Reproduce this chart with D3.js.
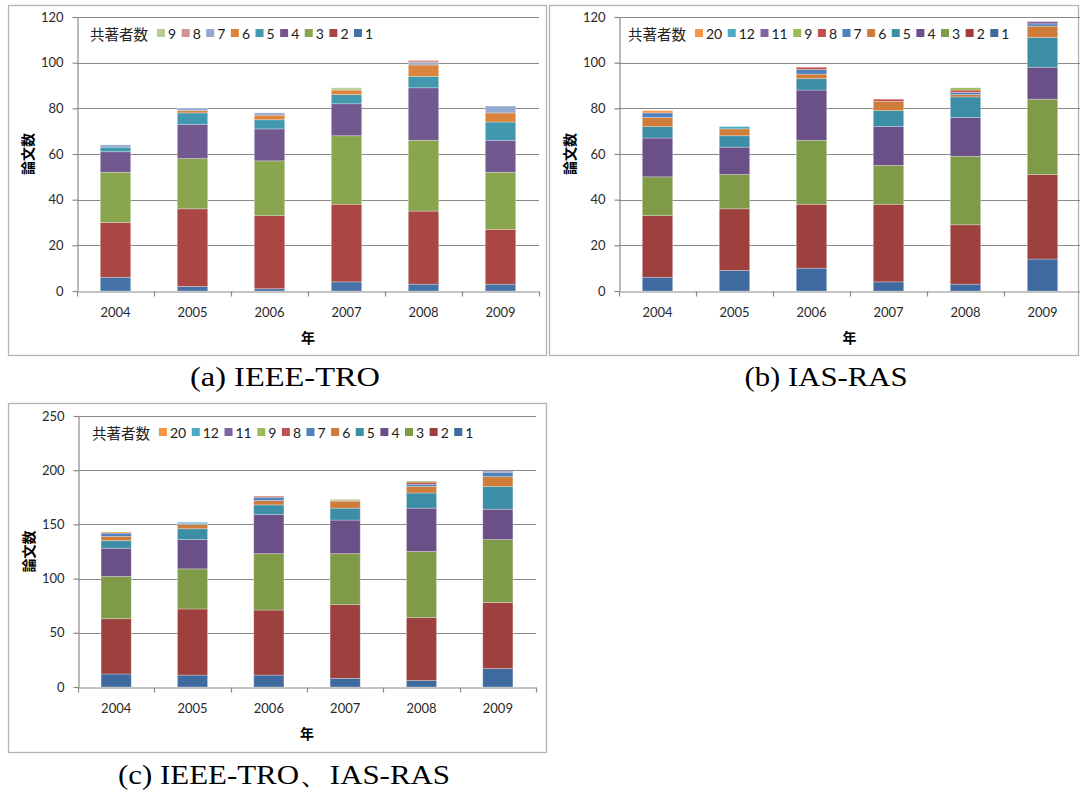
<!DOCTYPE html>
<html><head><meta charset="utf-8">
<script src="https://cdn.jsdelivr.net/npm/d3@7"></script>
<style>body{margin:0;background:#fff;}svg{display:block;}</style>
</head><body>
<svg id="chart" width="1080" height="791"></svg>
<script>
// ---------- DATA ----------
const years = ['2004','2005','2006','2007','2008','2009'];
const yTicksAB = [0,20,40,60,80,100,120];
const yTicksC = [0,50,100,150,200,250];
const keysA = ['1','2','3','4','5','6','7','8','9'];
const keysB = ['1','2','3','4','5','6','7','8','9','11','12','20'];

// (a) IEEE-TRO : papers by number of co-authors
const tro1 = [6,2,1,4,3,3];
const tro2 = [24,34,32,34,32,24];
const tro3 = [22,22,24,30,31,25];
const tro4 = [9,15,14,14,23,14];
const tro5 = [2,5,4,4,5,8];
const tro6 = [0,1,2,2,5,4];
const tro7 = [1,1,1,0,1,3];
const tro8 = [0,0,0,0,1,0];
const tro9 = [0,0,0,1,0,0];

// (b) IAS-RAS
const ras1 = [6,9,10,4,3,14];
const ras2 = [27,27,28,34,26,37];
const ras3 = [17,15,28,17,30,33];
const ras4 = [17,12,22,17,17,14];
const ras5 = [5,5,5,7,9,13];
const ras6 = [4,3,2,4,1,5];
const ras7 = [2,0,2,0,1,1];
const ras8 = [0,0,1,1,1,0];
const ras9 = [0,0,0,0,1,0];
const ras11 = [0,0,0,0,0,1];
const ras12 = [0,1,0,0,0,0];
const ras20 = [1,0,0,0,0,0];

// (c) IEEE-TRO + IAS-RAS
const all1 = [12,11,11,8,6,17];
const all2 = [51,61,60,68,58,61];
const all3 = [39,37,52,47,61,58];
const all4 = [26,27,36,31,40,28];
const all5 = [7,10,9,11,14,21];
const all6 = [4,4,4,6,6,9];
const all7 = [3,1,3,0,2,4];
const all8 = [0,0,1,1,2,0];
const all9 = [0,0,0,1,1,0];
const all11 = [0,0,0,0,0,1];
const all12 = [0,1,0,0,0,0];
const all20 = [1,0,0,0,0,0];

const legendTitle = '共著者数';
const xTitle = '年';
const yTitle = '論文数';

// ---------- STYLE ----------
const colorsA = ['#4572A7','#AA4643','#89A54E','#71588F','#4198AF','#DB843D','#93A9CF','#D19392','#B9CD96'];
const colorsB = ['#3E6A9F','#9E403D','#7F9B48','#6A5086','#3B8EA5','#CD7C3A','#4F81BD','#C0504D','#9BBB59','#8064A2','#4BACC6','#F79646'];

const panels = [
  {keys: keysA, vals: [tro1,tro2,tro3,tro4,tro5,tro6,tro7,tro8,tro9], colors: colorsA, ticks: yTicksAB,
   frame: [8,5,546,355], x0: 77, x1: 539, y0: 291, y1: 17, legX: 90, legY: 33, ytX: 27,
   caption: '(a) IEEE-TRO', capX: 285, capY: 386, capW: 190},
  {keys: keysB, vals: [ras1,ras2,ras3,ras4,ras5,ras6,ras7,ras8,ras9,ras11,ras12,ras20], colors: colorsB, ticks: yTicksAB,
   frame: [549,5,1078,355], x0: 619, x1: 1081, y0: 291, y1: 17, legX: 628, legY: 33, ytX: 569,
   caption: '(b) IAS-RAS', capX: 826, capY: 386, capW: 163},
  {keys: keysB, vals: [all1,all2,all3,all4,all5,all6,all7,all8,all9,all11,all12,all20], colors: colorsB, ticks: yTicksC,
   frame: [8,403,546,752], x0: 78, x1: 536, y0: 687, y1: 416, legX: 92, legY: 432, ytX: 28,
   caption: '(c) IEEE-TRO、IAS-RAS', capX: 284, capY: 784, capW: 332}
];

const svg = d3.select('#chart');
const tickFont = 'Lato, "Open Sans", sans-serif';
const cjkFont = '"Noto Sans CJK JP", "Noto Sans", sans-serif';
const gridColor = '#8a8a8a';

panels.forEach(p => {
  const g = svg.append('g');
  // frame
  g.append('rect').attr('x', p.frame[0]+0.5).attr('y', p.frame[1]+0.5)
    .attr('width', p.frame[2]-p.frame[0]).attr('height', p.frame[3]-p.frame[1])
    .attr('fill', 'none').attr('stroke', '#b4b4b4').attr('stroke-width', 1.3);

  const x = d3.scaleBand().domain(years).range([p.x0, p.x1]);
  const y = d3.scaleLinear().domain([0, d3.max(p.ticks)]).range([p.y0, p.y1]);

  // gridlines
  g.append('g').selectAll('line').data(p.ticks.filter(t => t > 0)).join('line')
    .attr('x1', p.x0).attr('x2', p.x1)
    .attr('y1', d => Math.round(y(d)) + 0.5).attr('y2', d => Math.round(y(d)) + 0.5)
    .attr('stroke', gridColor).attr('stroke-width', 1.2);

  // table + stack
  const table = years.map((yr, i) => {
    const row = {year: yr};
    p.keys.forEach((k, j) => row[k] = p.vals[j][i]);
    return row;
  });
  const stacked = d3.stack().keys(p.keys)(table);
  const bw = x.bandwidth() * 0.395;
  g.append('g').selectAll('g').data(stacked).join('g')
    .attr('fill', (d, i) => p.colors[i])
    .selectAll('rect').data(d => d.filter(s => s[1] - s[0] > 0)).join('rect')
    .attr('x', d => x(d.data.year) + x.bandwidth()/2 - bw/2)
    .attr('width', bw)
    .attr('y', d => y(d[1]))
    .attr('height', d => y(d[0]) - y(d[1]))
    .attr('stroke', 'rgba(255,255,255,0.35)').attr('stroke-width', 0.8);

  // y axis
  const ya = g.append('g').attr('transform', `translate(${p.x0 + 0.5},0)`)
    .call(d3.axisLeft(y).tickValues(p.ticks).tickSize(5).tickSizeOuter(0).tickPadding(9));
  ya.select('.domain').attr('stroke', gridColor).attr('stroke-width', 1.2);
  ya.selectAll('.tick line').attr('stroke', gridColor).attr('stroke-width', 1.2);
  ya.selectAll('.tick text').attr('font-family', tickFont).attr('font-size', 13).attr('fill', '#2a2a2a');

  // x axis
  const xa = g.append('g').attr('transform', `translate(0,${Math.round(p.y0) + 0.5})`)
    .call(d3.axisBottom(x).tickSize(0).tickSizeOuter(0).tickPadding(16));
  xa.select('.domain').attr('stroke', gridColor).attr('stroke-width', 1.2);
  xa.selectAll('.tick text').attr('font-family', tickFont).attr('font-size', 13).attr('fill', '#2a2a2a');
  const bounds = years.map(d => x(d)).concat([p.x1]);
  xa.append('g').selectAll('line').data(bounds).join('line')
    .attr('x1', d => Math.round(d) + 0.5).attr('x2', d => Math.round(d) + 0.5)
    .attr('y1', 0).attr('y2', 5).attr('stroke', gridColor).attr('stroke-width', 1.2);

  // axis titles
  g.append('text').attr('transform', `translate(${p.ytX},${(p.y0 + p.y1)/2}) rotate(-90)`)
    .attr('text-anchor', 'middle').attr('dominant-baseline', 'central')
    .attr('font-family', cjkFont).attr('font-weight', 'bold').attr('font-size', 14)
    .attr('fill', '#000').text(yTitle);
  g.append('text').attr('x', (p.x0 + Math.min(p.x1, 1080)) / 2 + (p.x1 > 1080 ? 0 : 0)).attr('y', p.y0 + 46)
    .attr('text-anchor', 'middle').attr('dominant-baseline', 'central')
    .attr('font-family', cjkFont).attr('font-weight', 'bold').attr('font-size', 14)
    .attr('fill', '#000').text(xTitle);

  // legend
  const lg = g.append('g').attr('transform', `translate(${p.legX},${p.legY})`);
  const lt = lg.append('text').attr('x', 0).attr('y', 0).attr('dominant-baseline', 'central')
    .attr('font-family', cjkFont).attr('font-size', 14.5).attr('fill', '#222').text(legendTitle);
  let cx = 67;
  const order = p.keys.map((k, i) => ({k, c: p.colors[i]})).reverse();
  order.forEach(o => {
    lg.append('rect').attr('x', cx).attr('y', -4).attr('width', 8).attr('height', 8).attr('fill', o.c);
    const t = lg.append('text').attr('x', cx + 11).attr('y', 0).attr('dominant-baseline', 'central')
      .attr('font-family', tickFont).attr('font-size', 14).attr('fill', '#222').text(o.k);
    const w = t.node().getComputedTextLength();
    cx += 11 + w + 5.5;
  });

  // caption
  svg.append('text').attr('x', p.capX).attr('y', p.capY).attr('text-anchor', 'middle')
    .attr('font-family', '"Liberation Serif", "Times New Roman", serif').attr('font-size', 28)
    .attr('textLength', p.capW).attr('lengthAdjust', 'spacingAndGlyphs')
    .attr('fill', '#000').text(p.caption);
});
</script>
</body></html>
